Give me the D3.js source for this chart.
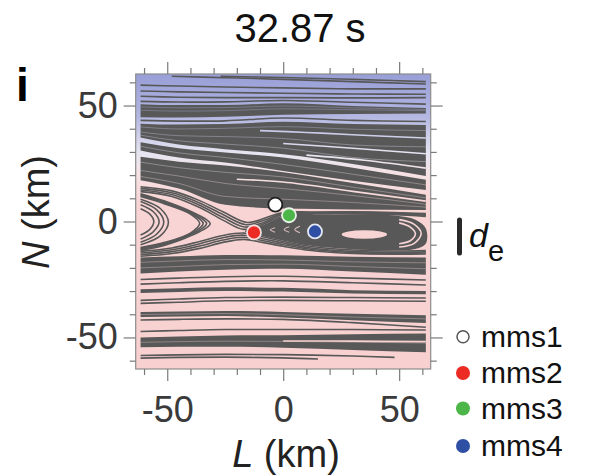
<!DOCTYPE html>
<html>
<head>
<meta charset="utf-8">
<script src="https://cdn.jsdelivr.net/npm/d3@7"></script>
<style>
  body { margin: 0; background: #fff; }
  svg { display: block; font-family: "Liberation Sans", Arial, sans-serif; }
</style>
</head>
<body>
<div id="canvas"></div>
<script>
/* global d3 */

// ---- data (L, N in km) ----
const title = '32.87 s'
const panel = 'i'
const majorTicks = [-50, 0, 50]
const minorTicks = [-60, -40, -30, -20, -10, 10, 20, 30, 40, 60]

const scNames = ['mms1', 'mms2', 'mms3', 'mms4']
const scL = [-3.4, -12.6, 2.5, 13.7]
const scN = [7.3, -4.7, 2.7, -4.3]
const deKm = 14.2

// L stations shared by the band edges and streaks
const stations = [-61.5, -45, -25, 0, 30, 61.5]

// dense bundles of field lines: N of upper / lower edge at each station
const bandTop = [
  [50.6, 50.2, 50.2, 51.0, 49.8, 48.9],
  [42.2, 41.8, 42.0, 43.0, 42.0, 41.6],
  [34.2, 31.6, 29.8, 27.6, 23.2, 18.0],
  [27.9, 25.8, 24.2, 21.2, 16.6, 11.5],
  [-15.5, -15.0, -14.4, -14.6, -15.2, -15.5],
  [-29.2, -28.8, -28.4, -28.6, -29.6, -30.0],
  [-39.0, -38.8, -38.6, -39.0, -39.8, -40.4],
  [-50.0, -49.6, -49.2, -49.0, -48.6, -48.3]
]
const bandBottom = [
  [45.0, 44.8, 45.2, 46.0, 46.4, 46.6],
  [36.2, 33.2, 31.2, 29.0, 24.8, 19.6],
  [30.6, 27.6, 25.4, 21.8, 17.6, 13.6],
  [17.8, 14.2, 7.2, 5.6, 5.2, 5.0],
  [-22.4, -21.6, -20.8, -20.4, -21.6, -23.0],
  [-30.8, -30.4, -30.0, -30.2, -31.0, -31.4],
  [-41.2, -41.0, -40.8, -41.4, -42.6, -43.8],
  [-54.2, -54.0, -54.0, -54.4, -55.4, -56.4]
]
// faint lighter lines inside the bundles (N at each station)
const streaks = [
  [48.0, 47.6, 47.8, 48.6, 48.2, 47.8],
  [49.4, 49.0, 49.1, 49.8, 49.0, 48.3],
  [40.8, 39.9, 40.2, 40.9, 39.8, 39.2],
  [38.6, 37.0, 36.6, 35.8, 33.0, 32.2],
  [37.2, 34.8, 33.4, 31.6, 27.6, 25.8],
  [32.4, 29.6, 27.6, 24.6, 20.4, 15.8],
  [25.6, 23.2, 21.2, 19.2, 14.8, 10.2],
  [22.0, 19.6, 16.4, 14.2, 11.2, 7.4],
  [19.4, 16.4, 10.8, 9.6, 8.2, 6.2],
  [-17.6, -17.0, -16.4, -16.6, -17.4, -17.8],
  [-20.0, -19.4, -18.6, -18.4, -19.4, -20.4],
  [-40.1, -39.9, -39.7, -40.2, -41.2, -42.0],
  [-52.1, -51.8, -51.6, -51.7, -52.0, -52.4]
]

// single open field lines
const openLines = [
  [[-48, 62.6], [-25, 62.0], [0, 61.3], [30, 60.3], [61.5, 59.3]],
  [[-27, 62.6], [0, 62.1], [30, 61.3], [61.5, 60.3]],
  [[-61.5, 58.8], [-45, 58.4], [-25, 58.0], [0, 57.6], [30, 57.2], [61.5, 57.2]],
  [[-61.5, 56.3], [-45, 55.9], [-25, 55.6], [0, 55.3], [30, 55.0], [61.5, 54.9]],
  [[-61.5, 54.0], [-45, 53.6], [-25, 53.4], [0, 53.4], [30, 53.3], [61.5, 53.4]],
  [[-61.5, 51.8], [-45, 51.5], [-25, 51.6], [0, 52.2], [30, 51.4], [61.5, 50.6]],
  [[-61.5, 43.6], [-45, 43.3], [-25, 43.4], [0, 44.6], [30, 43.6], [61.5, 43.1]],
  [[-61.5, -25.0], [-45, -24.4], [-25, -23.8], [0, -23.6], [30, -24.4], [61.5, -25.2]],
  [[-61.5, -27.0], [-45, -26.4], [-25, -25.8], [0, -25.6], [30, -26.4], [61.5, -27.4]],
  [[-61.5, -34.0], [-45, -33.4], [-25, -32.8], [0, -32.6], [30, -32.8], [61.5, -33.0]],
  [[-61.5, -35.3], [-45, -34.8], [-25, -34.2], [0, -34.0], [30, -34.2], [61.5, -34.4]],
  [[-61.5, -42.5], [-45, -42.2], [-25, -42.0], [0, -42.2], [30, -43.6], [61.5, -45.6]],
  [[-61.5, -47.4], [-45, -47.0], [-25, -46.6], [0, -46.6], [30, -46.6], [61.5, -46.8]],
  [[-61.5, -57.8], [-45, -57.5], [-25, -57.3], [0, -57.4], [30, -58.0], [48, -58.6]],
  [[-61.5, -58.9], [-45, -58.6], [-25, -58.5], [0, -58.8], [15, -59.3]]
]

// lines passing just above / below the X-line
const sepUpper = [
  [[-61.5, 12.9], [-48, 10.8], [-36, 6.0], [-26, 0.6], [-17, -3.4], [-9, -1.3], [0, 2.4], [12, 3.2], [30, 3.3], [48, 2.9], [61.5, 2.2]],
  [[-61.5, 13.6], [-48, 11.6], [-36, 7.0], [-26, 1.8], [-16.5, -2.4], [-8.5, -0.4], [0, 3.0], [12, 3.6], [30, 3.7], [48, 3.3], [61.5, 2.7]],
  [[-61.5, 14.3], [-48, 12.4], [-36, 8.0], [-26, 3.0], [-16, -1.4], [-8, 0.6], [0, 3.5], [12, 3.9], [30, 4.0], [48, 3.6], [61.5, 3.1]],
  [[-61.5, 15.0], [-48, 13.2], [-36, 9.0], [-26, 4.2], [-15.5, -0.4], [-7.5, 1.6], [0, 3.9], [12, 4.1], [30, 4.2], [48, 3.9], [61.5, 3.4]]
]
const sepLower = [
  [[-61.5, -12.9], [-48, -11.4], [-36, -8.6], [-26, -6.0], [-17, -5.0], [-9, -6.6], [0, -8.6], [12, -10.8], [30, -12.3], [48, -12.7], [61.5, -12.5]],
  [[-61.5, -13.6], [-48, -12.2], [-36, -9.6], [-26, -7.0], [-17, -5.9], [-9, -7.4], [0, -9.3], [12, -11.4], [30, -12.9], [48, -13.3], [61.5, -13.1]],
  [[-61.5, -14.3], [-48, -13.0], [-36, -10.6], [-26, -8.0], [-17, -6.8], [-9, -8.2], [0, -10.0], [12, -12.0], [30, -13.4], [48, -13.8], [61.5, -13.6]],
  [[-61.5, -15.0], [-48, -13.8], [-36, -11.6], [-26, -9.0], [-17, -7.7], [-9, -9.0], [0, -10.7], [12, -12.5], [30, -13.8], [48, -14.1], [61.5, -14.0]]
]

// reconnected lines left of the X-line
const leftLoops = [
  [[-61.5, 5.5], [-57.5, 3.2], [-55.8, 0], [-57.5, -3.4], [-61.5, -5.8]],
  [[-61.5, 7.2], [-56, 4.2], [-53.5, 0], [-56, -4.4], [-61.5, -7.6]],
  [[-61.5, 8.6], [-54.5, 5.0], [-51.5, -0.2], [-54.5, -5.4], [-61.5, -9.0]],
  [[-61.5, 9.6], [-53, 5.6], [-49.5, -0.3], [-53, -6.2], [-61.5, -10.0]],
  [[-61.5, 10.8], [-51, 7.6], [-40, 3.2], [-36, -0.8], [-40, -5.0], [-51, -9.0], [-61.5, -11.2]],
  [[-61.5, 11.2], [-51, 8.0], [-40, 3.6], [-34.5, -0.9], [-40, -5.4], [-51, -9.4], [-61.5, -11.6]],
  [[-61.5, 11.6], [-51, 8.4], [-40, 4.0], [-33, -0.9], [-40, -5.8], [-51, -9.8], [-61.5, -12.0]],
  [[-61.5, 12.0], [-51, 8.8], [-40, 4.4], [-31.5, -1.0], [-40, -6.2], [-51, -10.2], [-61.5, -12.4]]
]

// flux rope
const islandOutline = [
  [-16.5, -4.2], [-9, -1.6], [0, 2.1], [12, 2.9], [30, 3.0], [48, 2.6], [57, 0.8], [61.5, -3.0],
  [61.5, -9.5], [57, -11.9], [48, -12.4], [30, -12.0], [12, -10.5], [0, -8.3], [-9, -6.3]
]
const islandCore = {L: 35, N: -5.6, halfL: 9.8, halfN: 1.8}

// clear light gaps between bundles
const gapLines = [
  [[-10, 39.2], [10, 38.4], [30, 37.4], [61.5, 36.0]],
  [[0, 33.6], [30, 31.6], [61.5, 29.2]],
  [[10, 28.6], [35, 26.4], [61.5, 23.0]],
  [[-20, 18.2], [0, 17.0], [30, 13.0], [61.5, 8.8]],
  [[0, -51.5], [30, -51.6], [61.5, -51.8]],
  [[50, 0.8], [56.5, -1.2], [59.5, -5.2], [56.5, -9.4], [50, -11.0]],
  [[50, -0.6], [54.8, -2.4], [57.0, -5.3], [54.8, -8.3], [50, -9.6]]
]
// small slits at the tail of the flux rope
const ropeSlits = [
  [[-3.5, -2.7], [-5.6, -3.6], [-3.5, -4.6]],
  [[2.6, -2.3], [0.4, -3.4], [2.6, -4.6]],
  [[7.2, -2.0], [5.0, -3.4], [7.2, -4.8]]
]

// ---- styles ----
const W = 591, H = 476
const lineColor = '#585858'
const scColors = ['#ffffff', '#ec2b25', '#4cb648', '#2f4fa4']
const scStroke = ['#222', '#f4dede', '#e8f4e8', '#e4e8f4']
const bgStops = [
  [0, '#989fd7'], [0.14, '#b2b6e1'], [0.27, '#e6e5f1'], [0.34, '#f6e2e4'],
  [0.44, '#f8d4d4'], [1, '#f8d0d0']
]

const x = d3.scaleLinear().domain([-63.6, 63.6]).range([135.7, 430.7])
const y = d3.scaleLinear().domain([-63.6, 63.6]).range([369, 74])

const svg = d3.select('#canvas')
  .append('svg')
  .attr('width', W)
  .attr('height', H)

const defs = svg.append('defs')
const grad = defs.append('linearGradient')
  .attr('id', 'bgGrad')
  .attr('gradientUnits', 'userSpaceOnUse')
  .attr('x1', 0).attr('x2', 0)
  .attr('y1', y.range()[1]).attr('y2', y.range()[0])
bgStops.forEach(s => {
  grad.append('stop').attr('offset', s[0]).attr('stop-color', s[1])
})
defs.append('clipPath').attr('id', 'plotClip')
  .append('rect')
  .attr('x', x.range()[0]).attr('y', y.range()[1])
  .attr('width', x.range()[1] - x.range()[0])
  .attr('height', y.range()[0] - y.range()[1])

const plot = svg.append('g').attr('clip-path', 'url(#plotClip)')

plot.append('rect')
  .attr('x', x.range()[0]).attr('y', y.range()[1])
  .attr('width', x.range()[1] - x.range()[0])
  .attr('height', y.range()[0] - y.range()[1])
  .attr('fill', 'url(#bgGrad)')

const curveLine = d3.line()
  .x(d => x(d[0]))
  .y(d => y(d[1]))
  .curve(d3.curveCatmullRom.alpha(0.5))

const stationLine = d3.line()
  .x((d, i) => x(stations[i]))
  .y(d => y(d))
  .curve(d3.curveMonotoneX)

const bandArea = d3.area()
  .x(d => x(d.L))
  .y0(d => y(d.b))
  .y1(d => y(d.t))
  .curve(d3.curveMonotoneX)

plot.selectAll('path.band')
  .data(bandTop.map((top, k) => stations.map((L, i) => ({L, t: top[i], b: bandBottom[k][i]}))))
  .enter()
  .append('path')
  .attr('class', 'band')
  .attr('d', bandArea)
  .attr('fill', lineColor)

plot.append('path')
  .attr('d', d3.line().x(d => x(d[0])).y(d => y(d[1])).curve(d3.curveCatmullRomClosed.alpha(0.5))(islandOutline))
  .attr('fill', lineColor)

plot.selectAll('path.fl')
  .data(openLines.concat(sepUpper, sepLower, leftLoops))
  .enter()
  .append('path')
  .attr('class', 'fl')
  .attr('d', curveLine)
  .attr('fill', 'none')
  .attr('stroke', lineColor)
  .attr('stroke-width', 1.6)

plot.selectAll('path.streak')
  .data(streaks)
  .enter()
  .append('path')
  .attr('class', 'streak')
  .attr('d', stationLine)
  .attr('fill', 'none')
  .attr('stroke', 'url(#bgGrad)')
  .attr('stroke-opacity', 0.35)
  .attr('stroke-width', 1)

plot.selectAll('path.gap')
  .data(gapLines)
  .enter()
  .append('path')
  .attr('class', 'gap')
  .attr('d', curveLine)
  .attr('fill', 'none')
  .attr('stroke', 'url(#bgGrad)')
  .attr('stroke-width', 1.6)

plot.selectAll('path.slit')
  .data(ropeSlits)
  .enter()
  .append('path')
  .attr('class', 'slit')
  .attr('d', curveLine)
  .attr('fill', 'none')
  .attr('stroke', 'url(#bgGrad)')
  .attr('stroke-opacity', 0.8)
  .attr('stroke-width', 1.1)

plot.append('ellipse')
  .attr('cx', x(islandCore.L))
  .attr('cy', y(islandCore.N))
  .attr('rx', x(islandCore.L + islandCore.halfL) - x(islandCore.L))
  .attr('ry', y(islandCore.N - islandCore.halfN) - y(islandCore.N))
  .attr('fill', 'url(#bgGrad)')

// spacecraft
svg.selectAll('circle.sc')
  .data(scNames)
  .enter()
  .append('circle')
  .attr('cx', (d, i) => x(scL[i]))
  .attr('cy', (d, i) => y(scN[i]))
  .attr('r', 7)
  .attr('fill', (d, i) => scColors[i])
  .attr('stroke', (d, i) => scStroke[i])
  .attr('stroke-width', 1.8)

// frame
svg.append('rect')
  .attr('x', x.range()[0]).attr('y', y.range()[1])
  .attr('width', x.range()[1] - x.range()[0])
  .attr('height', y.range()[0] - y.range()[1])
  .attr('fill', 'none')
  .attr('stroke', '#8c8c8c')
  .attr('stroke-width', 1.2)

// axes: minor + major ticks on all four sides, outward
const axisStyle = g => {
  g.select('.domain').remove()
  g.selectAll('.tick line').attr('stroke', '#7a7a7a').attr('stroke-width', 1.2)
  g.selectAll('.tick text').attr('fill', '#3a3a3a').attr('font-size', 36)
    .attr('font-family', '"Liberation Sans", Arial, sans-serif')
}
const fmt = d => d
const sides = [
  [d3.axisBottom(x), `translate(0,${y.range()[0]})`, true],
  [d3.axisTop(x), `translate(0,${y.range()[1]})`, false],
  [d3.axisLeft(y), `translate(${x.range()[0]},0)`, true],
  [d3.axisRight(y), `translate(${x.range()[1]},0)`, false]
]
sides.forEach(([ax, tr]) => {
  svg.append('g').attr('transform', tr)
    .call(ax.tickValues(minorTicks).tickSize(6).tickFormat(''))
    .call(axisStyle)
})
sides.forEach(([ax, tr, labels], k) => {
  svg.append('g').attr('transform', tr)
    .call(ax.tickValues(majorTicks).tickSize(12)
      .tickPadding(k === 0 ? 15 : 6)
      .tickFormat(labels ? fmt : ''))
    .call(axisStyle)
})

// titles
svg.append('text')
  .attr('x', 300).attr('y', 42)
  .attr('text-anchor', 'middle')
  .attr('font-size', 40)
  .attr('fill', '#111')
  .text(title)

svg.append('text')
  .attr('x', 16).attr('y', 101)
  .attr('font-size', 46)
  .attr('font-weight', 'bold')
  .attr('fill', '#000')
  .text(panel)

const xl = svg.append('text')
  .attr('x', 286).attr('y', 467)
  .attr('text-anchor', 'middle')
  .attr('font-size', 38)
  .attr('fill', '#222')
xl.append('tspan').attr('font-style', 'italic').text('L')
xl.append('tspan').text(' (km)')

const yl = svg.append('text')
  .attr('transform', 'translate(49,212) rotate(-90)')
  .attr('text-anchor', 'middle')
  .attr('font-size', 38)
  .attr('fill', '#222')
yl.append('tspan').attr('font-style', 'italic').text('N')
yl.append('tspan').text(' (km)')

// d_e scale bar
svg.append('line')
  .attr('x1', 459.5).attr('x2', 459.5)
  .attr('y1', y(0.6)).attr('y2', y(0.6 - deKm))
  .attr('stroke', '#2a2a2a')
  .attr('stroke-width', 5)
  .attr('stroke-linecap', 'round')
const de = svg.append('text').attr('x', 469).attr('y', 247).attr('fill', '#111')
de.append('tspan').attr('font-style', 'italic').attr('font-size', 34).text('d')
de.append('tspan').attr('font-size', 29).attr('dy', 14).text('e')

// legend
const legY = [336.7, 373, 408.5, 446]
const leg = svg.selectAll('g.leg')
  .data(scNames)
  .enter()
  .append('g')
  .attr('class', 'leg')
  .attr('transform', (d, i) => `translate(463,${legY[i]})`)
leg.append('circle')
  .attr('r', (d, i) => i === 0 ? 6 : 7)
  .attr('fill', (d, i) => scColors[i])
  .attr('stroke', (d, i) => i === 0 ? '#555' : 'none')
  .attr('stroke-width', 1.5)
leg.append('text')
  .attr('x', 18).attr('y', 10)
  .attr('font-size', 30)
  .attr('fill', '#111')
  .text(d => d)
</script>
</body>
</html>
